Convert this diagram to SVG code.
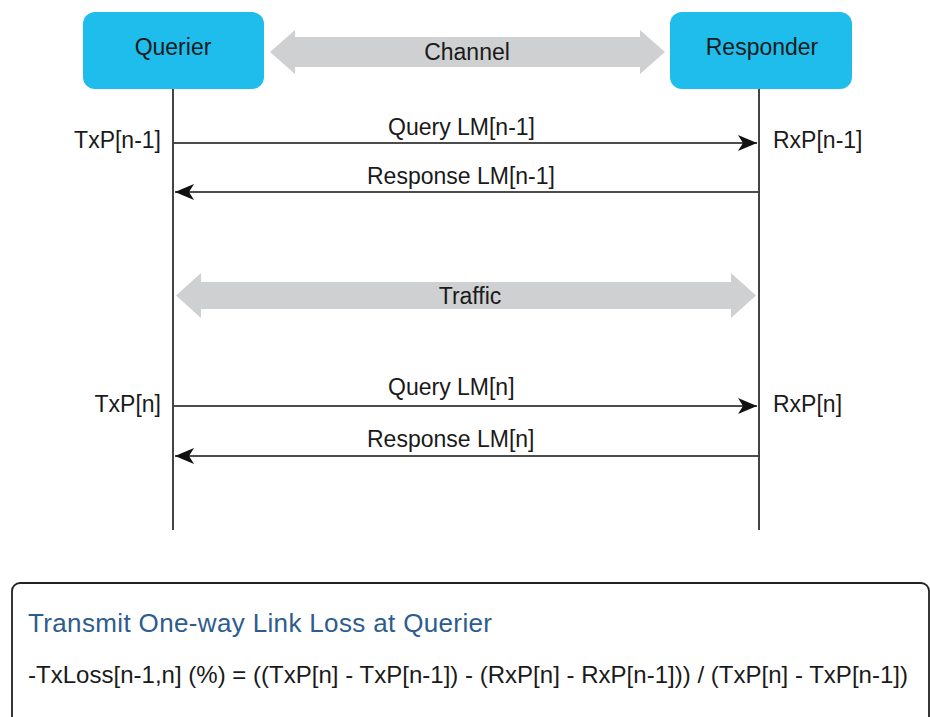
<svg xmlns="http://www.w3.org/2000/svg" width="930" height="717" viewBox="0 0 930 717">
<style>
.t{font-family:"Liberation Sans",Arial,Helvetica,sans-serif;font-size:23px;fill:#1a1a1a}
.node{fill:#1fbdec}
.life{stroke:#444;stroke-width:2;fill:none}
.msg{stroke:#111;stroke-width:1.6;fill:none;marker-end:url(#ah)}
.band{fill:#cfd0d2}
</style>
<defs>
<marker id="ah" markerUnits="userSpaceOnUse" markerWidth="20" markerHeight="16" refX="19" refY="8" orient="auto">
<path d="M0,0 L19,8 L0,16 L5,8 Z" fill="#111"/>
</marker>
</defs>
<rect width="930" height="717" fill="#fff"/>
<g id="querier">
<rect class="node" x="83" y="12" width="181" height="77" rx="12"/>
<text class="t" x="173" y="55" text-anchor="middle">Querier</text>
</g>
<g id="responder">
<rect class="node" x="670" y="12" width="182" height="77" rx="12"/>
<text class="t" x="762" y="55" text-anchor="middle">Responder</text>
</g>
<g id="channel">
<polygon class="band" points="270,52 295,30 295,37 640,37 640,30 665,52 640,74 640,67 295,67 295,74"/>
<text class="t" x="467" y="60" text-anchor="middle">Channel</text>
</g>
<g id="traffic">
<polygon class="band" points="176,295.5 201,273 201,282 731,282 731,273 756,295.5 731,318 731,309 201,309 201,318"/>
<text class="t" x="470" y="304" text-anchor="middle">Traffic</text>
</g>
<g id="connectors">
<line class="life" x1="173" y1="89" x2="173" y2="530"/>
<line class="life" x1="759" y1="89" x2="759" y2="530"/>
<line class="msg" x1="174" y1="143" x2="757" y2="143"/>
<line class="msg" x1="758" y1="192" x2="175" y2="192"/>
<line class="msg" x1="174" y1="406" x2="757" y2="406"/>
<line class="msg" x1="758" y1="456" x2="175" y2="456"/>
</g>
<g id="labels">
<text class="t" x="161" y="148" text-anchor="end">TxP[n-1]</text>
<text class="t" x="773" y="148">RxP[n-1]</text>
<text class="t" x="388" y="135">Query LM[n-1]</text>
<text class="t" x="367" y="184">Response LM[n-1]</text>
<text class="t" x="161" y="412" text-anchor="end">TxP[n]</text>
<text class="t" x="773" y="412">RxP[n]</text>
<text class="t" x="388" y="395">Query LM[n]</text>
<text class="t" x="367" y="447">Response LM[n]</text>
</g>
<g id="formula-box">
<rect x="12" y="583" width="917" height="160" rx="8" fill="#fff" stroke="#222" stroke-width="1.8"/>
<text class="t" x="28" y="632" style="font-size:26px;fill:#2d5c8f" textLength="464" lengthAdjust="spacing">Transmit One-way Link Loss at Querier</text>
<text class="t" x="28" y="683" style="font-size:24px" textLength="880" lengthAdjust="spacing">-TxLoss[n-1,n] (%) = ((TxP[n] - TxP[n-1]) - (RxP[n] - RxP[n-1])) / (TxP[n] - TxP[n-1])</text>
</g>
</svg>
